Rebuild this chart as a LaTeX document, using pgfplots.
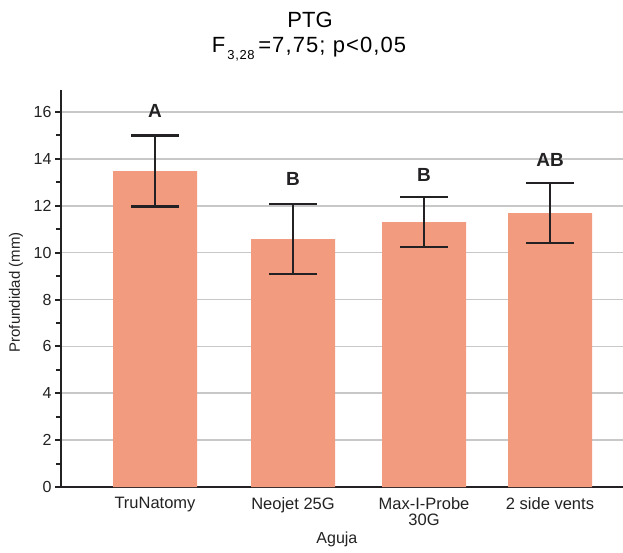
\documentclass[border=0pt]{standalone}
\usepackage{fontspec}
\setmainfont{Liberation Sans}
\usepackage{pgfplots}
\pgfplotsset{compat=1.18}
\definecolor{barc}{RGB}{243,155,127}
\definecolor{axc}{RGB}{35,33,35}
\definecolor{gridc}{RGB}{200,200,200}
\begin{document}
\begin{tikzpicture}[x=1pt,y=1pt]
\path[use as bounding box] (0,0) rectangle (623,552);
\begin{axis}[
  at={(61pt,65pt)}, anchor=south west,
  scale only axis, width=562pt, height=397pt,
  xmin=61, xmax=623, ymin=0, ymax=16.94,
  axis x line*=bottom, axis y line*=left,
  axis line style={line width=2pt, color=axc, -},
  ytick={0,2,...,16}, minor ytick={1,3,...,15},
  tick align=outside, major tick length=6pt, minor tick length=5pt,
  ytick style={line width=2pt, color=axc},
  xtick={155,293,424,550},
  xticklabels={TruNatomy, Neojet 25G, {Max-I-Probe\\30G}, 2 side vents},
  xtick style={draw=none},
  xticklabel style={align=center, font=\fontsize{16.5}{16}\selectfont, text=axc, yshift=-1pt},
  yticklabel style={font=\fontsize{16}{18}\selectfont, text=axc},
  /pgf/number format/assume math mode=true,
  ymajorgrids, major grid style={gridc, line width=1.6pt},
  xlabel={Aguja}, ylabel={Profundidad (mm)},
  xlabel style={at={(axis description cs:0.491,-0.131)}, anchor=center, font=\fontsize{16}{16}\selectfont, text=axc},
  ylabel style={at={(axis description cs:-0.080,0.49)}, anchor=center, font=\fontsize{15}{16}\selectfont, text=axc},
  clip=false,
]
\addplot[ybar, bar width=84, fill=barc, draw=none,
  error bars/.cd, y dir=both, y explicit,
  error bar style={line width=2.4pt, color=axc},
  error mark options={rotate=90, mark size=24pt, line width=2.4pt, color=axc}]
  coordinates {
  (155,13.48) +- (0,1.51)
  (293,10.58) +- (0,1.49)
  (424,11.30) +- (0,1.07)
  (550,11.69) +- (0,1.28)
  };
\node[font=\bfseries\fontsize{19}{20}\selectfont, text=axc] at (axis cs:155,16.04) {A};
\node[font=\bfseries\fontsize{19}{20}\selectfont, text=axc] at (axis cs:293,13.14) {B};
\node[font=\bfseries\fontsize{19}{20}\selectfont, text=axc] at (axis cs:424,13.31) {B};
\node[font=\bfseries\fontsize{19}{20}\selectfont, text=axc] at (axis cs:550,13.95) {AB};
\end{axis}
\node[font=\fontsize{22}{24}\selectfont] at (310,532) {PTG};
\node[font=\fontsize{22}{24}\selectfont\addfontfeature{LetterSpace=5}] at (309,503) {F\raisebox{-7pt}{\fontsize{13}{13}\selectfont\,3,28}\,=7,75; p<0,05};
\end{tikzpicture}
\end{document}
